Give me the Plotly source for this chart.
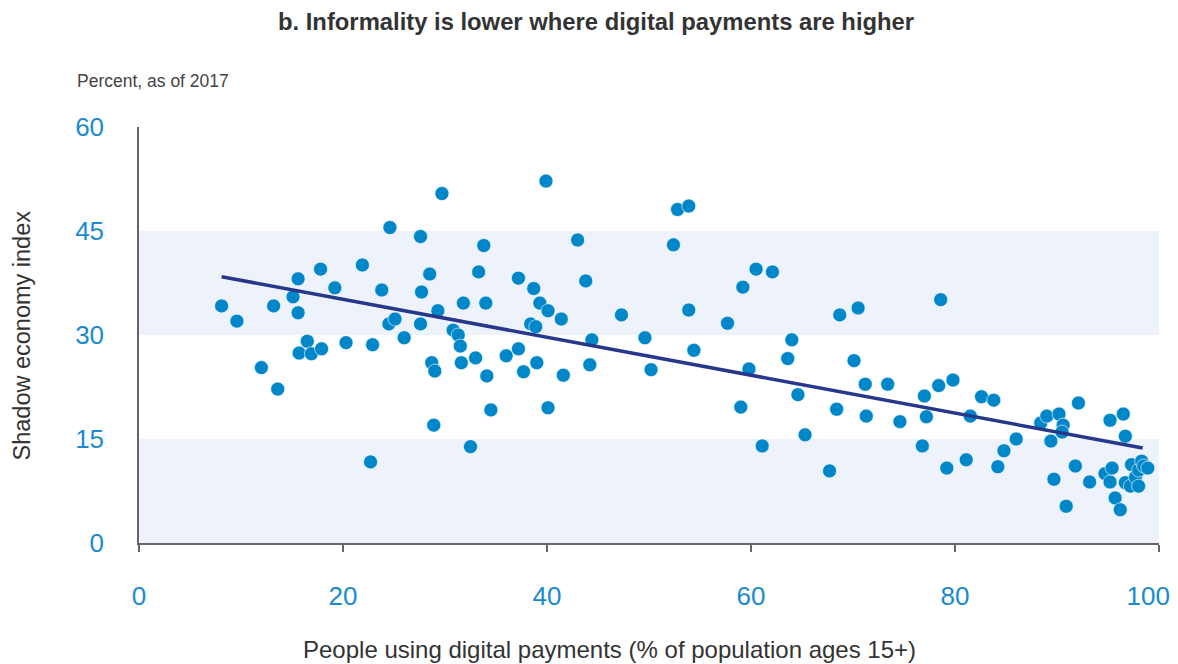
"""Informality vs digital payments scatter, rebuilt with Plotly."""

import plotly.graph_objects as go  # type: ignore[import-untyped]

# People using digital payments (% of population ages 15+)
digital_pay = [
    8.1, 9.6, 12.0, 13.2, 13.6, 15.1, 15.6, 15.6, 15.7, 16.5,
    16.9, 17.8, 17.9, 19.2, 20.3, 21.9, 22.7, 22.9, 23.8, 24.5,
    24.6, 25.1, 26.0, 27.6, 27.7, 27.6, 28.5, 28.7, 28.9, 29.0,
    29.3, 29.7, 30.8, 31.3, 31.5, 31.6, 31.8, 32.5, 33.0, 33.3,
    33.8, 34.0, 34.1, 34.5, 36.0, 37.2, 37.2, 37.7, 38.4, 38.7,
    38.9, 39.0, 39.3, 39.9, 40.1, 40.1, 41.4, 41.6, 43.0, 43.8,
    44.2, 44.4, 47.3, 49.6, 50.2, 52.4, 52.8, 53.9, 53.9, 54.4,
    57.7, 59.0, 59.2, 59.8, 60.5, 61.1, 62.1, 63.6, 64.0, 64.6,
    65.3, 67.7, 68.4, 68.7, 70.1, 70.5, 71.2, 71.3, 73.4, 74.6,
    76.8, 77.0, 77.2, 78.4, 78.6, 79.2, 79.8, 81.1, 81.5, 82.6,
    83.8, 84.2, 84.8, 86.0, 88.4, 89.0, 89.4, 89.7, 90.2, 90.6,
    90.5, 90.9, 91.8, 92.1, 93.2, 94.7, 95.2, 95.2, 95.4, 95.7,
    96.2, 96.5, 96.7, 96.7, 97.3, 97.2, 97.7, 98.0, 98.0, 98.3,
    98.5, 98.9,
]

# Shadow economy index
shadow_idx = [
    34.2, 32.0, 25.3, 34.2, 22.2, 35.5, 38.1, 33.2, 27.4, 29.1,
    27.3, 39.5, 28.0, 36.8, 28.9, 40.1, 11.7, 28.6, 36.5, 31.6,
    45.5, 32.3, 29.6, 44.2, 36.2, 31.6, 38.8, 26.0, 17.0, 24.8,
    33.5, 50.4, 30.7, 30.0, 28.4, 26.0, 34.6, 13.9, 26.7, 39.1,
    42.9, 34.6, 24.1, 19.2, 27.0, 38.2, 28.0, 24.7, 31.6, 36.7,
    31.2, 26.0, 34.6, 52.2, 33.5, 19.5, 32.3, 24.2, 43.7, 37.8,
    25.7, 29.3, 32.9, 29.6, 25.0, 43.0, 48.1, 48.6, 33.6, 27.8,
    31.7, 19.6, 36.9, 25.1, 39.5, 14.0, 39.1, 26.6, 29.3, 21.4,
    15.6, 10.4, 19.3, 32.9, 26.3, 33.9, 22.9, 18.3, 22.9, 17.5,
    14.0, 21.2, 18.2, 22.7, 35.1, 10.8, 23.5, 12.0, 18.3, 21.1,
    20.6, 11.0, 13.3, 15.0, 17.3, 18.3, 14.7, 9.2, 18.6, 17.0,
    16.0, 5.3, 11.1, 20.2, 8.8, 10.0, 17.7, 8.8, 10.8, 6.5,
    4.8, 18.6, 15.4, 8.7, 11.3, 8.2, 9.5, 10.5, 8.2, 11.8,
    11.1, 10.8,
]

# fitted trend, read at its two ends
trend_x = [8.1, 98.4]
trend_y = [38.4, 13.7]

band_ranges = [(0, 15), (30, 45)]
x_ticks = [0, 20, 40, 60, 80, 100]
# last label nudged left with trailing spaces so it stays inside the page
x_tick_labels = ["0", "20", "40", "60", "80", "100\u00a0\u00a0\u00a0"]
y_ticks = [0, 15, 30, 45, 60]

DOT = "#0087c9"
NAVY = "#27378a"
BAND = "#eef3fb"
TICK_BLUE = "#1a8ad0"
FONT = "Liberation Sans, Arial, sans-serif"

fig = go.Figure()

for lo, hi in band_ranges:
    fig.add_shape(type="rect", xref="paper", yref="y", x0=0, x1=1, y0=lo, y1=hi,
                  fillcolor=BAND, line=dict(width=0), layer="below")

fig.add_trace(go.Scatter(
    x=digital_pay, y=shadow_idx, mode="markers",
    marker=dict(color=DOT, size=14, line=dict(width=0.6, color="white")),
    showlegend=False,
))
fig.add_trace(go.Scatter(
    x=trend_x, y=trend_y, mode="lines",
    line=dict(color=NAVY, width=3.5), showlegend=False,
))

# page body has an 8px margin, so the figure is 8px smaller than the window
fig.update_layout(
    width=1170, height=656,
    margin=dict(l=131, r=19, t=119, b=121),
    paper_bgcolor="white", plot_bgcolor="white",
    font=dict(family=FONT, color="#333"),
    title=dict(text="<b>b. Informality is lower where digital payments are higher</b>",
               x=0.5026, xanchor="center", y=0.9787, yanchor="middle",
               font=dict(size=23.8, color="#333")),
    xaxis=dict(range=[0, 100], tickvals=x_ticks, ticktext=x_tick_labels,
               showgrid=False, zeroline=False,
               showline=True, linecolor="#666", linewidth=1.5,
               ticks="outside", ticklen=7, tickcolor="#666", tickwidth=1.5,
               tickfont=dict(size=26, color=TICK_BLUE), ticklabelstandoff=22,
               ticklabeloverflow="allow", automargin=False),
    yaxis=dict(range=[0, 60], tickvals=y_ticks, showgrid=False, zeroline=False,
               showline=True, linecolor="#666", linewidth=1.5, ticks="",
               tickfont=dict(size=26, color=TICK_BLUE), ticklabelstandoff=28,
               ticklabeloverflow="allow", automargin=False),
    annotations=[
        dict(text="Percent, as of 2017", xref="paper", yref="paper",
             x=-0.0627, y=1.1106, xanchor="left", yanchor="middle", showarrow=False,
             font=dict(size=17.5, color="#444")),
        dict(text="Shadow economy index", xref="paper", yref="paper",
             x=-0.1147, y=0.4988, xanchor="center", yanchor="middle", textangle=-90,
             showarrow=False, font=dict(size=23.5, color="#333")),
        dict(text="People using digital payments (% of population ages 15+)",
             xref="paper", yref="paper", x=0.4608, y=-0.2572, xanchor="center",
             yanchor="middle", showarrow=False, font=dict(size=24, color="#333")),
    ],
)

fig.write_html("out.html")
